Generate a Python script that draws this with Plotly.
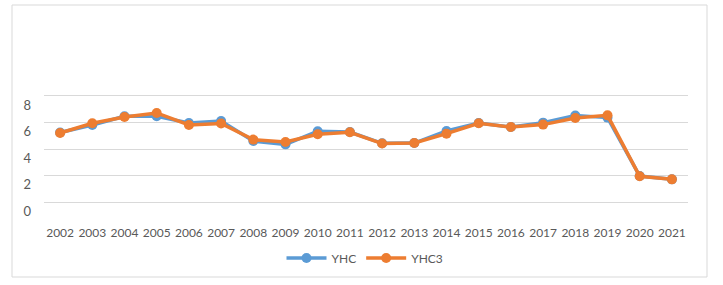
import plotly.graph_objects as go

years = [str(y) for y in range(2002, 2022)]
yhc = [5.25, 5.81, 6.47, 6.47, 5.96, 6.11, 4.60, 4.35, 5.34, 5.28,
       4.43, 4.45, 5.36, 5.96, 5.66, 5.99, 6.52, 6.37, 1.96, 1.71]
yhc3 = [5.21, 5.94, 6.42, 6.72, 5.81, 5.92, 4.71, 4.53, 5.11, 5.26,
        4.41, 4.45, 5.16, 5.94, 5.66, 5.84, 6.34, 6.54, 1.94, 1.71]
y_ticks = [0, 2, 4, 6, 8]

fig = go.Figure()
fig.add_trace(go.Scatter(x=years, y=yhc, name="YHC", mode="lines+markers",
                         line=dict(color="#5B9BD5", width=3.5),
                         marker=dict(size=10, color="#5B9BD5")))
fig.add_trace(go.Scatter(x=years, y=yhc3, name="YHC3", mode="lines+markers",
                         line=dict(color="#ED7D31", width=3.5),
                         marker=dict(size=10, color="#ED7D31")))

L, R, T, B = 44, 35, 94, 81
W, H = 723, 285
pw, ph = W - L - R, H - T - B

def px(x):
    return (x - L) / pw

def py(y):
    return (H - B - y) / ph

fig.update_layout(
    width=W, height=H,
    margin=dict(l=L, r=R, t=T, b=B, pad=0, autoexpand=False),
    paper_bgcolor="white", plot_bgcolor="white",
    font=dict(family="Lato", size=12, color="#595959"),
    showlegend=True,
    legend=dict(orientation="h", xref="container", yref="container",
                x=365 / W, xanchor="center",
                y=1 - 258 / H, yanchor="middle", font=dict(size=12, color="#595959"),
                itemwidth=40, tracegroupgap=0),
    shapes=[dict(type="rect", xref="paper", yref="paper",
                 x0=px(12), x1=px(707), y0=py(277), y1=py(5),
                 line=dict(color="#D9D9D9", width=1), fillcolor="rgba(0,0,0,0)",
                 layer="below")],
)
fig.update_xaxes(type="category", range=[-0.5, len(years) - 0.5], autorange=False,
                 showgrid=False, showline=False, zeroline=False,
                 ticks="", ticklabelstandoff=20, tickangle=0, automargin=False,
                 tickfont=dict(size=12, color="#595959"))
fig.update_yaxes(range=[-0.15, 8.15], autorange=False, tickvals=y_ticks, showgrid=True,
                 gridcolor="#D9D9D9",
                 gridwidth=1, zeroline=False, showline=False, ticks="", automargin=False,
                 ticklabelshift=9, ticklabelstandoff=12,
                 tickfont=dict(size=13, color="#595959"))

fig.write_html("out.html", config=dict(displayModeBar=False),
               post_script="document.body.style.margin='0';document.body.style.overflow='hidden';")
